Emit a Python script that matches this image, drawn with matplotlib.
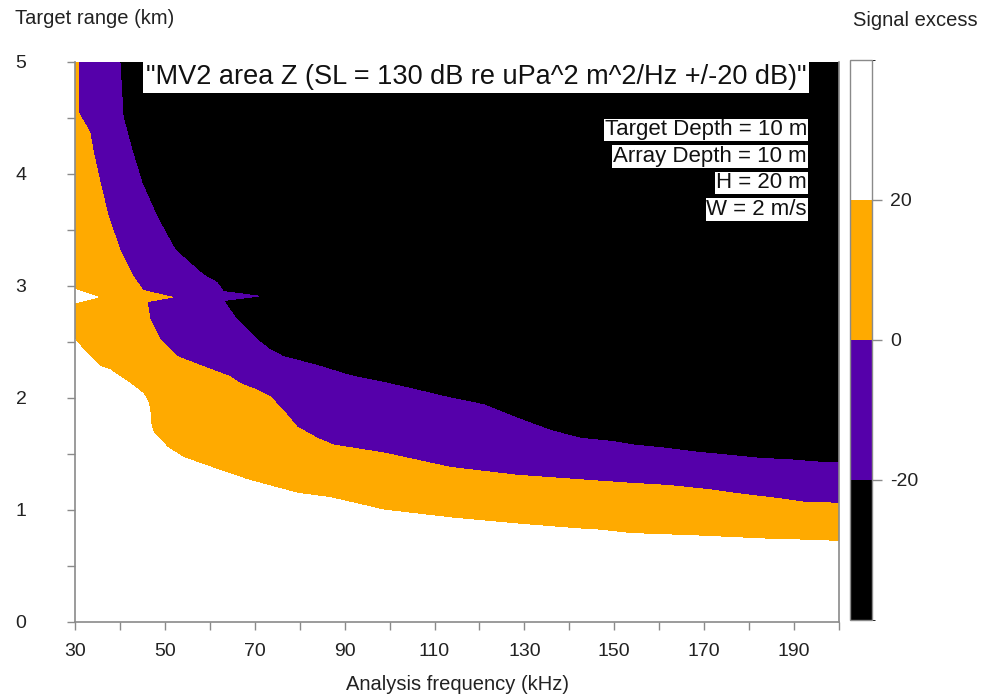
import matplotlib

matplotlib.use("Agg")
import matplotlib as mpl
import matplotlib.pyplot as plt
from matplotlib.colors import BoundaryNorm, ListedColormap

plt.rcParams['font.family'] = ['Liberation Sans', 'DejaVu Sans']
plt.rcParams['axes.unicode_minus'] = False

# Level boundaries of the signal excess map, (frequency kHz, range km),
# read off the picture. Each one runs from the top / left edge to the right edge.
se_m20_f = [40.0, 40.7, 42.7, 44.9, 48.2, 52.3, 58.5, 61.6, 63.0, 70.8, 63.0, 66.0,
            70.5, 73.4, 76.3, 83.9, 91.2, 98.6, 106.2, 113.5, 120.9, 128.4, 135.8,
            142.5, 149.9, 154.3, 161.8, 167.6, 175.2, 182.6, 188.6, 194.4, 200.0]
se_m20_r = [5.00, 4.51, 4.21, 3.92, 3.62, 3.32, 3.10, 3.03, 2.95, 2.91, 2.87, 2.70,
            2.52, 2.43, 2.37, 2.29, 2.20, 2.14, 2.07, 2.00, 1.94, 1.82, 1.71,
            1.64, 1.61, 1.58, 1.55, 1.52, 1.49, 1.46, 1.45, 1.43, 1.42]

se_0_f = [30.7, 30.7, 33.3, 34.0, 35.6, 37.4, 40.0, 43.0, 45.1, 51.6, 46.0, 46.7,
          49.0, 52.7, 58.5, 64.5, 66.7, 70.5, 73.4, 76.3, 79.4, 83.9, 87.5, 98.6,
          113.5, 128.4, 142.5, 153.0, 161.8, 171.4, 176.5, 187.0, 192.1, 200.0]
se_0_r = [5.00, 4.55, 4.37, 4.21, 3.92, 3.62, 3.32, 3.08, 2.96, 2.90, 2.86, 2.70,
          2.52, 2.37, 2.28, 2.19, 2.13, 2.07, 2.01, 1.89, 1.74, 1.64, 1.58, 1.51,
          1.38, 1.31, 1.27, 1.24, 1.22, 1.18, 1.15, 1.10, 1.07, 1.06]

se_20_f = [30.0, 31.8, 33.3, 35.6, 37.8, 42.2, 45.1, 45.6, 46.3, 46.7, 46.7, 47.4,
           49.6, 50.5, 54.0, 60.7, 68.3, 79.4, 86.8, 98.6, 113.5, 128.4, 142.5,
           146.9, 153.6, 160.3, 167.6, 175.9, 184.1, 193.0, 200.0]
se_20_r = [2.52, 2.43, 2.37, 2.28, 2.25, 2.13, 2.04, 2.01, 1.96, 1.87, 1.80, 1.69,
           1.60, 1.56, 1.47, 1.375, 1.27, 1.15, 1.11, 1.00, 0.93, 0.875, 0.83,
           0.82, 0.79, 0.78, 0.77, 0.755, 0.74, 0.73, 0.72]

# small island of > 20 dB at the left edge near 2.9 km
spike_20_f = [30.0, 35.1, 30.0]
spike_20_r = [2.97, 2.90, 2.85]

levels = [-40, -20, 0, 20, 40]
level_colors = ["#000000", "#5500aa", "#ffaa00", "#ffffff"]
info_lines = ["Target Depth = 10 m", "Array Depth = 10 m", "H = 20 m", "W = 2 m/s"]
title = '"MV2 area Z (SL = 130 dB re uPa^2 m^2/Hz +/-20 dB)"'

F0, F1, R0, R1 = 30, 200, 0, 5
W, H = 987, 695
gray = "#8a8a8a"
ink = "#222222"

fig = plt.figure(figsize=(W / 100, H / 100), dpi=100)
ax = fig.add_axes([75 / W, 1 - 622 / H, (839 - 75) / W, (622 - 62) / H])
ax.set_facecolor(level_colors[0])

# purple below the -20 dB line, orange below 0 dB, white below 20 dB
ax.fill([F0] + se_m20_f + [F1, F0], [R1] + se_m20_r + [R0, R0],
        color=level_colors[1], lw=0, antialiased=False)
ax.fill([F0] + se_0_f + [F1, F0], [R1] + se_0_r + [R0, R0],
        color=level_colors[2], lw=0, antialiased=False)
ax.fill(se_20_f + [F1, F0], se_20_r + [R0, R0],
        color=level_colors[3], lw=0, antialiased=False)
ax.fill(spike_20_f, spike_20_r, color=level_colors[3], lw=0, antialiased=False)

ax.set_xlim(F0, F1)
ax.set_ylim(R0, R1)
ax.set_xticks(range(30, 201, 10))
ax.set_xticklabels([str(v) if (v - 30) % 20 == 0 else "" for v in range(30, 201, 10)])
ax.set_yticks([v / 2 for v in range(0, 11)])
ax.set_yticklabels([str(v // 2) if v % 2 == 0 else "" for v in range(0, 11)])
ax.tick_params(axis="x", length=6, width=1, color=gray, pad=9, labelsize=14,
               labelcolor=ink)
ax.tick_params(axis="y", length=6, width=1, color=gray, pad=29, labelsize=14,
               labelcolor=ink)
for s in ["left", "bottom", "right"]:
    ax.spines[s].set_color(gray)
    ax.spines[s].set_linewidth(1.2)
ax.spines["top"].set_visible(False)

fig.text(15 / W, 1 - 19 / H, "Target range (km)", fontsize=14.5, va="center",
         ha="left", color=ink)
fig.text(458 / W, 1 - 685 / H, "Analysis frequency (kHz)", fontsize=14.5,
         va="center", ha="center", color=ink)

fig.text(476 / W, 1 - 77 / H, title, fontsize=19.5, ha="center", va="center",
         color="#111111", bbox=dict(fc="white", ec="none", pad=2))

for i, line in enumerate(info_lines):
    fig.text(807 / W, 1 - (130 + 26.5 * i) / H, line, fontsize=16, ha="right",
             va="center", color="#111111",
             bbox=dict(fc="white", ec="none", pad=0.6))

# colour key
cax = fig.add_axes([850 / W, 1 - 620 / H, 22 / W, 560 / H])
cmap = ListedColormap(level_colors)
norm = BoundaryNorm(levels, cmap.N)
cb = mpl.colorbar.ColorbarBase(cax, cmap=cmap, norm=norm, ticks=[-20, 0, 20])
cb.outline.set_edgecolor(gray)
cb.outline.set_linewidth(1)
cax.tick_params(length=7, width=1, color=gray, pad=6, labelsize=14,
                labelcolor=ink)
fig.text(853 / W, 1 - 20 / H, "Signal excess", fontsize=14.5, va="center",
         ha="left", color=ink)

fig.savefig("out.png", dpi=100)
